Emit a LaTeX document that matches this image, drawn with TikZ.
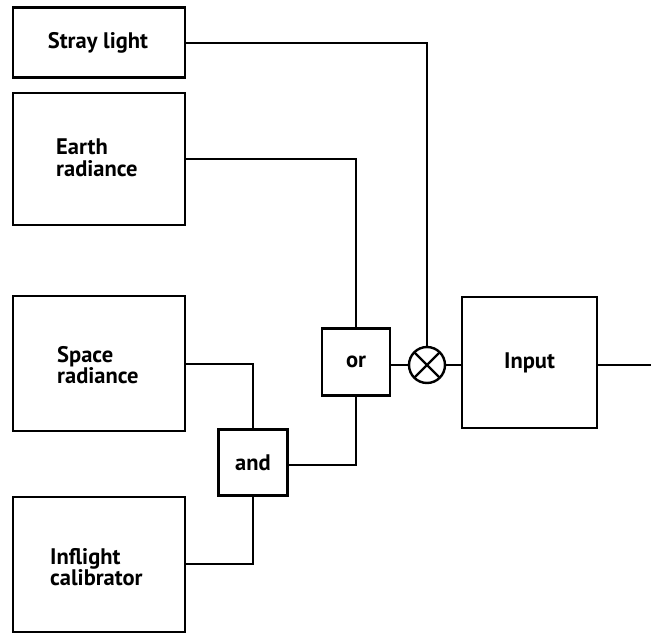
\documentclass[tikz,border=0pt]{standalone}
\usepackage{fontspec}
\setmainfont{PT Sans}
\begin{document}
\begin{tikzpicture}[x=1pt,y=-1pt,
  txt/.style={font=\fontsize{22.5}{21.5}\selectfont\bfseries},
  blk/.style={draw,line width=2.6pt,minimum width=172pt,minimum height=134pt,inner sep=0pt},
  gate/.style={draw,line width=2.6pt,minimum width=69pt,minimum height=66pt,inner sep=0pt,txt},
  lbl/.style={txt,align=left,inner sep=0pt},
  wire/.style={line width=2.2pt}]
\useasboundingbox (0,0) rectangle (651,635);
\node[blk,minimum height=70pt] (stray) at (99,42.5) {};
\node[lbl] (strayT) at (98,43) {Stray light};
\node[blk,minimum height=132pt] (earth) at (99,159) {};
\node[lbl,anchor=west] (earthT) at (56,158) {Earth\\radiance};
\node[blk,minimum height=135pt] (space) at (99,363.5) {};
\node[lbl,anchor=west] (spaceT) at (57,365) {Space\\radiance};
\node[blk,minimum height=135pt] (infl) at (99,564.5) {};
\node[lbl,anchor=west] (inflT) at (50,567) {Inflight\\calibrator};
\node[gate] (and) at (253,462.5) {and};
\node[gate,minimum width=68pt,minimum height=67pt] (or) at (356,362) {or};
\node[draw,circle,line width=2.4pt,minimum size=36pt,inner sep=0pt,
  path picture={\draw[line width=2.4pt] (path picture bounding box.north west) -- (path picture bounding box.south east)
  (path picture bounding box.north east) -- (path picture bounding box.south west);}] (mix) at (427,365) {};
\node[blk,minimum width=135pt,minimum height=131pt,txt] (input) at (529.5,362.5) {Input};
\coordinate (out) at (651,365);
\draw[wire] (stray.east |- 0,43) -| (mix.north);
\draw[wire] (earth.east |- 0,159) -| (or.north);
\draw[wire] (space.east |- 0,364) -| (and.north);
\draw[wire] (infl.east |- 0,564) -| (and.south);
\draw[wire] (and.east |- 0,465) -| (or.south);
\draw[wire] (or.east |- mix.west) -- (mix.west);
\draw[wire] (mix.east) -- (input.west |- mix.east);
\draw[wire] (input.east |- out) -- (out);
\end{tikzpicture}
\end{document}
